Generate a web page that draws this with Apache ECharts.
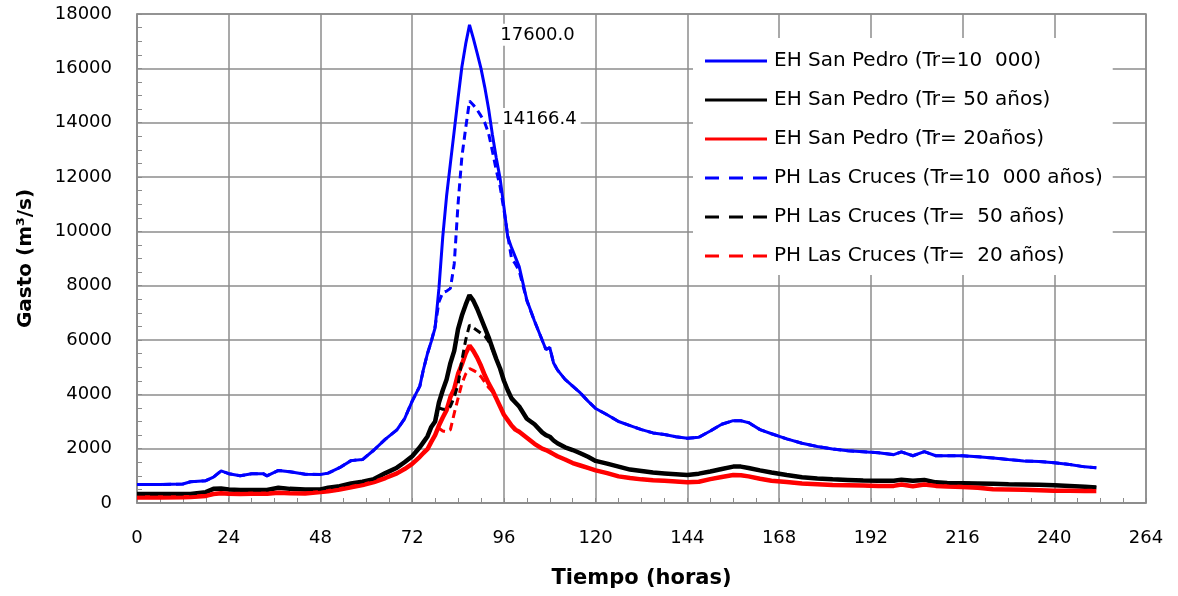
<!DOCTYPE html>
<html>
<head>
<meta charset="utf-8">
<script src="https://cdn.jsdelivr.net/npm/echarts@6/dist/echarts.min.js"></script>
<style>
  html, body { margin: 0; padding: 0; background: #fff; }
  #chart { width: 1178px; height: 596px; }
</style>
</head>
<body>
<div id="chart"></div>
<script>
const hours = [0, 6, 12, 14, 18, 20, 22, 24, 27, 30, 33, 34, 37, 40, 44, 48, 50, 53, 56, 59, 62, 65, 68, 70,
  72, 74, 75, 76, 77, 78, 79, 80, 81, 82, 83, 84, 85, 86, 87, 88, 89, 90, 91, 92, 93, 94, 95, 96, 97, 98, 99,
  100, 102, 104, 106, 107, 108, 109, 110, 112, 114, 116, 118, 120, 123, 126, 129, 132, 135, 138, 141, 144,
  147, 150, 153, 156, 158, 160, 163, 166, 170, 174, 178, 182, 186, 190, 194, 198, 200, 203, 206, 209, 212,
  216, 220, 224, 228, 232, 236, 240, 244, 248, 251];

// EH San Pedro
const sanPedro10000 = [680, 680, 700, 780, 820, 950, 1180, 1080, 1000, 1080, 1080, 1000, 1200, 1150, 1060, 1050, 1100, 1300, 1560, 1600, 1950, 2350, 2690, 3100,
  3750, 4300, 4950, 5500, 5950, 6450, 7900, 9800, 11300, 12500, 13700, 14900, 16050, 16900, 17600, 17100, 16560, 16000, 15300, 14500, 13550, 12700, 11950, 10900, 9800, 9400, 9050,
  8700, 7470, 6700, 6000, 5650, 5720, 5150, 4900, 4550, 4300, 4050, 3750, 3480, 3250, 3000, 2850, 2700, 2580, 2520, 2440, 2380,
  2420, 2650, 2900, 3030, 3030, 2960, 2700, 2550, 2360, 2200, 2080, 1990, 1920, 1890, 1850, 1780, 1880, 1740, 1890, 1740, 1740,
  1740, 1700, 1660, 1600, 1550, 1530, 1480, 1420, 1330, 1300];
const sanPedro50 = [330, 330, 330, 330, 400, 520, 530, 500, 480, 480, 480, 480, 560, 520, 500, 500, 560, 620, 720, 780, 880, 1100, 1300, 1500,
  1720, 2050, 2250, 2450, 2800, 3000, 3700, 4150, 4550, 5150, 5600, 6400, 6900, 7300, 7650, 7450, 7150, 6800, 6450, 6100, 5700, 5300, 4950, 4500, 4150, 3850, 3700,
  3550, 3100, 2900, 2600, 2500, 2440, 2300, 2200, 2050, 1950, 1830, 1700, 1550, 1450, 1340, 1230, 1180, 1120, 1090, 1060, 1030,
  1080, 1160, 1250, 1340, 1340, 1290, 1200, 1120, 1030, 950, 900, 870, 850, 830, 820, 820, 860, 820, 850, 760, 740,
  730, 720, 710, 690, 680, 670, 650, 630, 600, 570];
const sanPedro20 = [200, 200, 210, 220, 260, 330, 360, 340, 330, 340, 340, 340, 380, 360, 350, 400, 430, 500, 580, 660, 770, 920, 1090, 1250,
  1440, 1700, 1850, 1980, 2250, 2500, 2850, 3150, 3420, 3900, 4200, 4750, 5100, 5500, 5800, 5600, 5350, 5050, 4700, 4400, 4150, 3850, 3550, 3250, 3050, 2850, 2700,
  2620, 2400, 2180, 2000, 1950, 1880, 1800, 1720, 1600, 1470, 1380, 1290, 1200, 1100, 980, 920, 870, 840, 820, 790, 760,
  780, 880, 960, 1030, 1020, 980, 890, 820, 770, 720, 690, 660, 650, 640, 630, 630, 680, 620, 680, 630, 610,
  590, 560, 510, 500, 490, 470, 450, 450, 440, 440];

// PH Las Cruces
const lasCruces10000 = [680, 680, 700, 780, 820, 950, 1180, 1080, 1000, 1080, 1080, 1000, 1200, 1150, 1060, 1050, 1100, 1300, 1560, 1600, 1950, 2350, 2690, 3100,
  3750, 4300, 4950, 5500, 5950, 6500, 7400, 7750, 7800, 7900, 8800, 11000, 12740, 13800, 14800, 14650, 14470, 14250, 14000, 13600, 12950, 12250, 11650, 10800, 9850, 9000, 8800,
  8550, 7450, 6700, 6000, 5650, 5720, 5150, 4900, 4550, 4300, 4050, 3750, 3480, 3250, 3000, 2850, 2700, 2580, 2520, 2440, 2380,
  2420, 2650, 2900, 3030, 3030, 2960, 2700, 2550, 2360, 2200, 2080, 1990, 1920, 1890, 1850, 1780, 1880, 1740, 1890, 1740, 1740,
  1740, 1700, 1660, 1600, 1550, 1530, 1480, 1420, 1330, 1300];
const lasCruces50 = [330, 330, 330, 330, 400, 520, 530, 500, 480, 480, 480, 480, 560, 520, 500, 500, 560, 620, 720, 780, 880, 1100, 1300, 1500,
  1720, 2050, 2250, 2450, 2800, 3000, 3500, 3450, 3450, 3550, 3900, 4350, 5250, 6000, 6550, 6450, 6350, 6250, 6150, 5950, 5650, 5300, 4950, 4500, 4150, 3850, 3700,
  3550, 3100, 2900, 2600, 2500, 2440, 2300, 2200, 2050, 1950, 1830, 1700, 1550, 1450, 1340, 1230, 1180, 1120, 1090, 1060, 1030,
  1080, 1160, 1250, 1340, 1340, 1290, 1200, 1120, 1030, 950, 900, 870, 850, 830, 820, 820, 860, 820, 850, 760, 740,
  730, 720, 710, 690, 680, 670, 650, 630, 600, 570];
const lasCruces20 = [200, 200, 210, 220, 260, 330, 360, 340, 330, 340, 340, 340, 380, 360, 350, 400, 430, 500, 580, 660, 770, 920, 1090, 1250,
  1440, 1700, 1850, 1980, 2250, 2500, 2750, 2650, 2620, 2700, 3300, 3850, 4400, 4750, 4950, 4880, 4800, 4650, 4450, 4250, 4100, 3850, 3550, 3250, 3050, 2850, 2700,
  2620, 2400, 2180, 2000, 1950, 1880, 1800, 1720, 1600, 1470, 1380, 1290, 1200, 1100, 980, 920, 870, 840, 820, 790, 760,
  780, 880, 960, 1030, 1020, 980, 890, 820, 770, 720, 690, 660, 650, 640, 630, 630, 680, 620, 680, 630, 610,
  590, 560, 510, 500, 490, 470, 450, 450, 440, 440];

const seriesNames = [
  'EH San Pedro (Tr=10  000)',
  'EH San Pedro (Tr= 50 años)',
  'EH San Pedro (Tr= 20años)',
  'PH Las Cruces (Tr=10  000 años)',
  'PH Las Cruces (Tr=  50 años)',
  'PH Las Cruces (Tr=  20 años)'
];
const peakLabels = ['17600.0', '14166.4'];

const chart = echarts.init(document.getElementById('chart'));
const FONT = '"DejaVu Sans", Verdana, sans-serif';
const gridGray = '#8c8c8c';
const solidIcon = 'path://M0,0h62v3h-62z';
const dashIcon = 'path://M0,0h14v3h-14z M24,0h14v3h-14z M48,0h14v3h-14z';

function pairs(values) {
  return hours.map((h, i) => [h, values[i]]);
}

function peakPoint(values, text, offset) {
  const i = values.indexOf(Math.max(...values));
  return {
    symbol: 'rect',
    symbolSize: 1,
    data: [{
      coord: [hours[i], values[i]],
      itemStyle: { color: 'rgba(0,0,0,0)' },
      label: {
        show: true,
        formatter: text,
        offset: offset,
        color: '#000',
        fontFamily: FONT,
        fontSize: 18,
        backgroundColor: '#fff',
        padding: [2, 4]
      }
    }]
  };
}

function line(name, values, color, width, dashed, extra) {
  return Object.assign({
    name: name,
    type: 'line',
    data: pairs(values),
    symbol: 'none',
    showSymbol: false,
    animation: false,
    lineStyle: { color: color, width: width, type: dashed ? [8, 5] : 'solid' },
    itemStyle: { color: color }
  }, extra || {});
}

chart.setOption({
  animation: false,
  grid: {
    left: 137, right: 32, top: 14, bottom: 93,
    show: true, borderColor: gridGray, borderWidth: 1.5, backgroundColor: '#fff'
  },
  legend: {
    orient: 'vertical',
    left: 693,
    top: 38,
    z: 10,
    padding: [13, 10, 9, 12],
    itemWidth: 62,
    itemHeight: 3,
    itemGap: 19,
    backgroundColor: '#fff',
    textStyle: { fontFamily: FONT, fontSize: 20, color: '#000', padding: [0, 0, 0, 2] },
    data: seriesNames.map((name, i) => ({ name: name, icon: i < 3 ? solidIcon : dashIcon }))
  },
  xAxis: {
    type: 'value',
    min: 0, max: 264, interval: 24,
    name: 'Tiempo (horas)',
    nameLocation: 'middle',
    nameGap: 65,
    nameTextStyle: { fontFamily: FONT, fontSize: 21, fontWeight: 'bold', color: '#000' },
    axisLine: { show: true, lineStyle: { color: gridGray, width: 1.5 } },
    axisTick: { show: true, inside: true, length: 5, lineStyle: { color: gridGray } },
    minorTick: { show: true, splitNumber: 4, length: 5, lineStyle: { color: gridGray } },
    axisLabel: { fontFamily: FONT, fontSize: 18, color: '#000', margin: 26 },
    splitLine: { show: true, lineStyle: { color: gridGray, width: 1.5 } }
  },
  yAxis: {
    type: 'value',
    min: 0, max: 18000, interval: 2000,
    name: 'Gasto (m³/s)',
    nameLocation: 'middle',
    nameGap: 101,
    nameTextStyle: { fontFamily: FONT, fontSize: 20, fontWeight: 'bold', color: '#000' },
    axisLine: { show: true, lineStyle: { color: gridGray, width: 1.5 } },
    axisTick: { show: true, inside: true, length: 5, lineStyle: { color: gridGray } },
    minorTick: { show: true, splitNumber: 4, length: 5, lineStyle: { color: gridGray } },
    axisLabel: { fontFamily: FONT, fontSize: 18, color: '#000', margin: 25, formatter: (v) => String(v) },
    splitLine: { show: true, lineStyle: { color: gridGray, width: 1.5 } }
  },
  series: [
    line(seriesNames[0], sanPedro10000, '#0000ff', 3, false, { markPoint: peakPoint(sanPedro10000, peakLabels[0], [68, 10]) }),
    line(seriesNames[1], sanPedro50, '#000000', 4.5, false),
    line(seriesNames[2], sanPedro20, '#ff0000', 4.5, false),
    line(seriesNames[3], lasCruces10000, '#0000ff', 3, true, { markPoint: peakPoint(lasCruces10000, peakLabels[1], [70, 18]) }),
    line(seriesNames[4], lasCruces50, '#000000', 3, true),
    line(seriesNames[5], lasCruces20, '#ff0000', 3, true)
  ]
});
</script>
</body>
</html>
